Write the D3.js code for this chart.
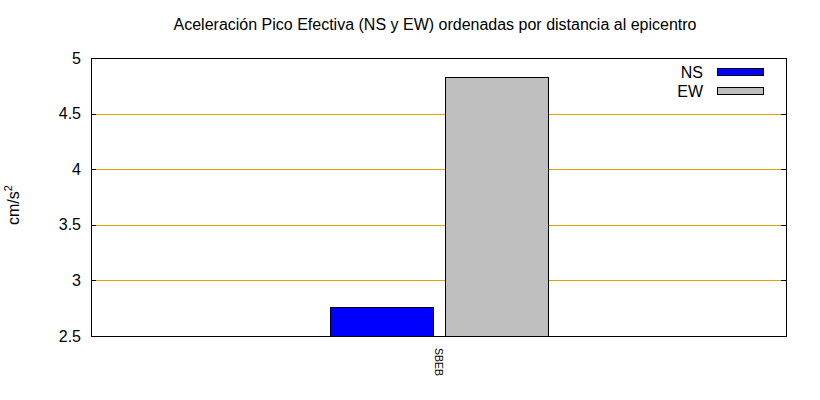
<!DOCTYPE html>
<html><head><meta charset="utf-8">
<script src="https://cdn.jsdelivr.net/npm/d3@7"></script>
<style>body{margin:0;background:#fff}svg{display:block}text{font-family:"Liberation Sans",Arial,sans-serif}</style>
</head><body>
<svg id="c" width="820" height="400"></svg>
<script>
const categories = ["SBEB"];
const seriesNames = ["NS", "EW"];
const nsValues = [2.76];
const ewValues = [4.83];
const yTicks = [2.5, 3, 3.5, 4, 4.5, 5];
const colors = ["#0000ff", "#bebebe"];
const title = "Aceleración Pico Efectiva (NS y EW) ordenadas por distancia al epicentro";

const svg = d3.select("#c");
const m = {l: 91, r: 786, t: 58, b: 336};
const y = d3.scaleLinear().domain([2.5, 5]).range([m.b, m.t]);
const x0 = d3.scaleBand().domain(categories).range([m.l, m.r]);
const x1 = d3.scaleBand().domain(seriesNames).range([-109, 110]).paddingInner(0.112);
const series = [nsValues, ewValues];

// grid
svg.append("g").selectAll("line").data(yTicks.filter(t => t > 2.5 && t < 5)).join("line")
  .attr("x1", m.l).attr("x2", m.r)
  .attr("y1", d => Math.round(y(d)) + 0.5).attr("y2", d => Math.round(y(d)) + 0.5)
  .attr("stroke", "#e6a000").attr("stroke-width", 1);

// bars
seriesNames.forEach((s, i) => {
  svg.append("g").selectAll("rect").data(categories).join("rect")
    .attr("x", (c) => Math.round(x0(c) + x0.bandwidth() / 2 + x1(s)) + 0.5)
    .attr("width", Math.round(x1.bandwidth()))
    .attr("y", (c, j) => Math.round(y(series[i][j])) + 0.5)
    .attr("height", (c, j) => m.b - Math.round(y(series[i][j])))
    .attr("fill", colors[i]).attr("stroke", "#000").attr("stroke-width", 1);
});

// frame
svg.append("rect").attr("x", m.l + 0.5).attr("y", m.t + 0.5)
  .attr("width", m.r - m.l).attr("height", m.b - m.t)
  .attr("fill", "none").attr("stroke", "#000").attr("stroke-width", 1);

// y axis labels
const yAxis = d3.axisLeft(y).tickValues(yTicks).tickSize(0).tickPadding(10).tickFormat(d3.format("~g"));
const ga = svg.append("g").attr("transform", `translate(${m.l},0)`).call(yAxis);
ga.select(".domain").remove();
ga.selectAll("text").attr("font-size", 16).attr("fill", "#000").attr("font-family", '"Liberation Sans",Arial,sans-serif');
// ticks on both sides
svg.append("g").selectAll("line").data(yTicks.filter(t => t > 2.5 && t < 5)).join("line")
  .attr("x1", m.r - 5).attr("x2", m.r)
  .attr("y1", d => Math.round(y(d)) + 0.5).attr("y2", d => Math.round(y(d)) + 0.5)
  .attr("stroke", "#000");
svg.append("g").selectAll("line").data(yTicks.filter(t => t > 2.5 && t < 5)).join("line")
  .attr("x1", m.l).attr("x2", m.l + 5)
  .attr("y1", d => Math.round(y(d)) + 0.5).attr("y2", d => Math.round(y(d)) + 0.5)
  .attr("stroke", "#000");

// x labels
const xAxis = d3.axisBottom(x0).tickSize(0);
const gx = svg.append("g").attr("transform", `translate(0,${m.b})`).call(xAxis);
gx.select(".domain").remove();
gx.selectAll("text").attr("font-size", 10.5).attr("fill", "#000")
  .attr("text-anchor", "start").attr("dy", null).attr("y", 0)
  .attr("transform", "translate(-4,12) rotate(90)");

// title
svg.append("text").attr("x", 435).attr("y", 30).attr("text-anchor", "middle")
  .attr("font-size", 16).text(title);

// y label
const yl = svg.append("text").attr("transform", "translate(19,205) rotate(-90)")
  .attr("text-anchor", "middle").attr("font-size", 16);
yl.append("tspan").text("cm/s");
yl.append("tspan").attr("font-size", 11).attr("dy", -7).text("2");

// legend
seriesNames.forEach((s, i) => {
  const yy = 72 + i * 19;
  svg.append("text").attr("x", 703).attr("y", yy).attr("dy", "0.35em")
    .attr("text-anchor", "end").attr("font-size", 16).text(s);
  svg.append("rect").attr("x", 717.5).attr("y", yy - 3.5).attr("width", 46).attr("height", 7)
    .attr("fill", colors[i]).attr("stroke", "#000");
});
</script>
</body></html>
